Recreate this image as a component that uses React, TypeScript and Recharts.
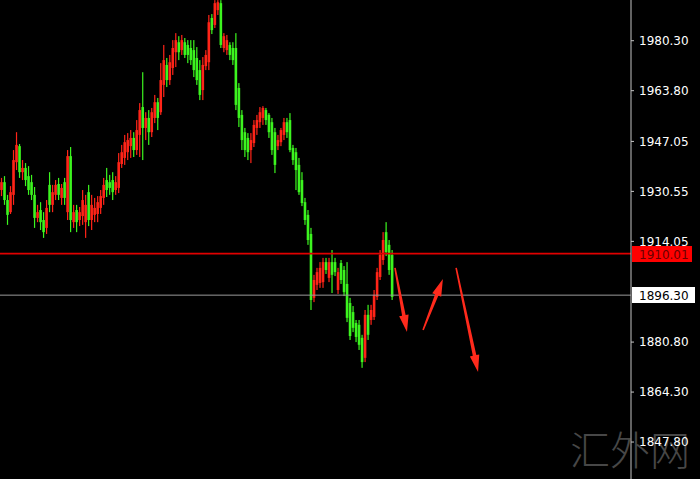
import React from 'react';
import {
  ComposedChart, Bar, XAxis, YAxis, ReferenceLine,
} from 'recharts';

// Candles, oldest first: [open, high, low, close]
const ohlc: number[][] = [
  [1931.0, 1935.0, 1929.0, 1933.6], [1933.6, 1935.6, 1926.1, 1927.7], [1927.7, 1929.4, 1919.5, 1922.8],
  [1923.7, 1932.3, 1923.1, 1930.3], [1929.4, 1944.2, 1926.1, 1940.9], [1940.2, 1950.1, 1937.6, 1945.9],
  [1945.5, 1946.2, 1935.0, 1936.9], [1936.9, 1940.9, 1934.3, 1938.3], [1938.3, 1939.9, 1932.3, 1934.3],
  [1935.6, 1938.9, 1929.4, 1931.0], [1933.6, 1936.0, 1927.7, 1929.4], [1929.4, 1932.0, 1918.5, 1921.8],
  [1921.8, 1926.1, 1920.4, 1923.7], [1924.4, 1927.0, 1917.8, 1920.4], [1921.1, 1923.7, 1915.2, 1917.1],
  [1918.5, 1927.7, 1916.5, 1925.1], [1932.7, 1936.9, 1923.7, 1926.1], [1926.1, 1932.7, 1923.7, 1930.3],
  [1929.4, 1934.3, 1927.7, 1932.7], [1933.0, 1935.0, 1927.7, 1929.4], [1928.4, 1933.0, 1926.1, 1931.7],
  [1933.6, 1935.0, 1926.1, 1928.4], [1923.7, 1944.2, 1921.1, 1942.2], [1942.2, 1945.2, 1917.1, 1921.1],
  [1920.4, 1926.1, 1918.5, 1923.7], [1924.4, 1926.1, 1917.1, 1920.4], [1921.1, 1925.4, 1919.1, 1923.7],
  [1922.4, 1931.0, 1919.5, 1927.7], [1920.4, 1929.4, 1915.2, 1926.1], [1930.3, 1932.7, 1919.1, 1921.1],
  [1921.1, 1929.4, 1917.8, 1926.1], [1922.8, 1928.4, 1920.4, 1925.1], [1923.1, 1929.0, 1920.4, 1927.0],
  [1925.1, 1931.0, 1923.1, 1929.0], [1928.4, 1935.0, 1926.1, 1932.7], [1934.3, 1938.3, 1928.7, 1931.0],
  [1933.6, 1936.0, 1929.4, 1931.7], [1934.3, 1936.9, 1927.7, 1930.3], [1931.0, 1935.6, 1929.4, 1933.6],
  [1931.7, 1943.2, 1930.0, 1940.2], [1939.6, 1945.9, 1938.3, 1943.5], [1941.6, 1949.2, 1939.3, 1946.8],
  [1943.5, 1949.8, 1940.9, 1947.5], [1945.5, 1950.8, 1941.6, 1948.2], [1948.2, 1950.1, 1941.9, 1944.2],
  [1944.2, 1954.1, 1942.6, 1950.8], [1949.2, 1959.7, 1941.9, 1957.4], [1958.4, 1969.9, 1940.9, 1951.5],
  [1951.5, 1956.7, 1947.5, 1954.8], [1954.8, 1957.4, 1945.9, 1950.1], [1950.1, 1958.1, 1948.5, 1956.7],
  [1954.8, 1962.4, 1953.1, 1960.0], [1960.0, 1961.4, 1950.8, 1954.8], [1956.7, 1972.9, 1955.8, 1967.3],
  [1965.7, 1978.9, 1961.7, 1973.9], [1972.3, 1974.6, 1965.0, 1967.3], [1967.3, 1975.6, 1965.7, 1973.2],
  [1971.3, 1980.5, 1969.0, 1977.9], [1976.5, 1982.8, 1971.6, 1980.5], [1979.8, 1981.8, 1973.9, 1976.5],
  [1977.2, 1982.2, 1975.6, 1980.5], [1979.8, 1981.2, 1974.6, 1975.6], [1978.9, 1980.5, 1972.9, 1975.6],
  [1977.9, 1980.5, 1972.3, 1973.9], [1977.2, 1980.5, 1968.3, 1970.6], [1974.6, 1978.2, 1965.7, 1967.3],
  [1970.6, 1973.9, 1960.7, 1962.4], [1964.0, 1974.9, 1960.7, 1972.3], [1971.9, 1977.2, 1970.6, 1975.6],
  [1973.2, 1988.8, 1970.6, 1986.4], [1987.8, 1989.1, 1982.5, 1983.8], [1985.5, 1993.7, 1984.5, 1992.7],
  [1990.4, 1993.7, 1988.8, 1993.0], [1992.7, 1993.7, 1977.9, 1978.9], [1977.9, 1982.8, 1976.5, 1981.8],
  [1977.2, 1982.2, 1975.6, 1980.5], [1978.9, 1979.8, 1973.9, 1975.6], [1977.9, 1979.8, 1972.3, 1973.9],
  [1977.9, 1982.8, 1957.4, 1959.1], [1964.7, 1966.3, 1951.8, 1954.8], [1955.8, 1957.4, 1944.2, 1947.5],
  [1950.1, 1951.5, 1941.9, 1944.2], [1948.2, 1949.8, 1940.9, 1943.5], [1944.2, 1949.8, 1939.9, 1947.5],
  [1946.5, 1954.1, 1945.2, 1952.5], [1951.5, 1955.8, 1949.2, 1954.1], [1953.4, 1958.4, 1951.5, 1956.7],
  [1954.8, 1958.7, 1952.5, 1958.1], [1957.4, 1958.1, 1952.5, 1954.1], [1955.8, 1956.4, 1948.2, 1950.1],
  [1953.4, 1954.8, 1942.6, 1944.2], [1950.1, 1951.5, 1936.6, 1939.3], [1945.5, 1949.2, 1944.2, 1947.5],
  [1946.8, 1951.5, 1945.5, 1950.8], [1949.2, 1954.8, 1947.5, 1953.4], [1953.4, 1954.8, 1948.2, 1950.1],
  [1954.1, 1956.4, 1943.5, 1944.2], [1944.9, 1945.9, 1939.3, 1940.9], [1943.5, 1944.9, 1931.0, 1937.6],
  [1939.3, 1941.6, 1929.4, 1930.3], [1934.3, 1936.9, 1925.7, 1926.7], [1927.0, 1928.4, 1919.5, 1921.1],
  [1922.8, 1924.4, 1912.9, 1914.5], [1916.5, 1918.5, 1891.4, 1894.7], [1895.4, 1903.0, 1894.0, 1901.3],
  [1899.7, 1905.3, 1898.0, 1903.9], [1900.3, 1907.2, 1898.7, 1905.3], [1900.6, 1908.6, 1898.7, 1907.2],
  [1907.2, 1908.6, 1903.3, 1904.6], [1902.0, 1908.6, 1900.6, 1907.2], [1907.2, 1911.2, 1897.0, 1903.0],
  [1907.2, 1908.6, 1902.6, 1903.9], [1898.0, 1905.3, 1896.7, 1903.9], [1906.9, 1907.9, 1900.0, 1901.3],
  [1904.6, 1905.9, 1896.0, 1897.3], [1900.0, 1907.2, 1887.4, 1888.8], [1893.7, 1895.4, 1881.5, 1882.8],
  [1890.7, 1892.7, 1884.1, 1885.5], [1887.1, 1888.1, 1880.8, 1882.5], [1886.5, 1888.1, 1878.2, 1879.9],
  [1882.2, 1883.2, 1872.3, 1874.2], [1875.6, 1891.4, 1874.2, 1889.8], [1889.8, 1893.1, 1881.5, 1883.2],
  [1888.1, 1893.1, 1886.5, 1891.4], [1889.1, 1898.0, 1888.1, 1896.4], [1895.7, 1905.3, 1894.7, 1903.9],
  [1902.3, 1911.2, 1901.3, 1909.6], [1907.9, 1917.1, 1906.3, 1914.5], [1917.1, 1920.4, 1909.2, 1910.5],
  [1912.9, 1914.5, 1903.0, 1904.6], [1909.6, 1911.2, 1894.7, 1895.7],
];

const priceTicks = [1980.30, 1963.80, 1947.05, 1930.55, 1914.05, 1880.80, 1864.30, 1847.80];
const priceDomain = [1835.6, 1993.74];
const slotDomain = [-0.5, 209.5];

const bidLine = 1910.01;
const levelLine = 1896.30;

// Hand-drawn direction arrows: [bar slot, price] from tail to tip
const arrows = [
  { from: [130.95, 1905.3], to: [134.95, 1884.1] },
  { from: [140.3, 1884.8], to: [146.9, 1901.6] },
  { from: [151.3, 1905.3], to: [158.6, 1870.9] },
];

const UP = '#ff2418';
const DOWN = '#3cf41f';
const ARROW = '#ff2a1c';
const FONT = '"DejaVu Sans", sans-serif';

const data = ohlc.map(([open, high, low, close], i) => ({
  i, open, high, low, close, range: [low, high],
}));

const Candle = (props: any) => {
  const { x, y, width, height, payload } = props;
  if (!payload || x == null || y == null) return null;
  const { open, high, low, close } = payload;
  const top = Math.min(y, y + height);
  const h = Math.abs(height);
  const toY = (v: number) => top + ((high - v) / (high - low || 1)) * h;
  const cx = x + width / 2;
  const color = close >= open ? UP : DOWN;
  const bTop = toY(Math.max(open, close));
  const bBot = toY(Math.min(open, close));
  return (
    <g>
      <rect x={cx - 0.6} y={top} width={1.2} height={Math.max(1, h)} fill={color} />
      <rect x={cx - 1.3} y={bTop} width={2.6} height={Math.max(1, bBot - bTop)} fill={color} />
    </g>
  );
};

const Arrow = (props: any) => {
  const { x1, y1, x2, y2 } = props;
  const len = Math.hypot(x2 - x1, y2 - y1);
  const ux = (x2 - x1) / len;
  const uy = (y2 - y1) / len;
  const px = -uy;
  const py = ux;
  const headLen = 17;
  const headW = 4.8;
  const bx = x2 - ux * headLen;
  const by = y2 - uy * headLen;
  const pts = [
    [x1 + px * 0.8, y1 + py * 0.8],
    [bx + px * 1.8, by + py * 1.8],
    [bx + px * headW, by + py * headW],
    [x2, y2],
    [bx - px * headW, by - py * headW],
    [bx - px * 1.8, by - py * 1.8],
    [x1 - px * 0.8, y1 - py * 0.8],
  ];
  return <polygon points={pts.map((p) => p.join(',')).join(' ')} fill={ARROW} />;
};

const PriceTag = ({ viewBox, value, bg, fg, w }: any) => {
  if (!viewBox) return null;
  const left = viewBox.x + viewBox.width + 1;
  const cy = Math.round(viewBox.y);
  return (
    <g>
      <rect x={left} y={cy - 8} width={w} height={16} fill={bg} />
      <text x={left + 7} y={cy + 4.5} fill={fg} fontSize={12} fontFamily={FONT}>
        {value.toFixed(2)}
      </text>
    </g>
  );
};

const App: React.FC = () => (
  <div
    style={{
      position: 'fixed', left: 0, top: 0, width: 700, height: 479,
      background: '#000', overflow: 'hidden',
    }}
  >
    <div
      style={{
        position: 'absolute', left: 570, top: 426, fontSize: 40, lineHeight: '44px',
        color: '#474747', fontFamily: '"Noto Sans CJK SC", sans-serif', fontWeight: 300,
      }}
    >
      汇外网
    </div>
    <ComposedChart
      width={700}
      height={479}
      data={data}
      margin={{ top: 0, right: 0, bottom: 0, left: 0 }}
      style={{ position: 'absolute', left: 0, top: 0 }}
    >
      <XAxis dataKey="i" type="number" domain={slotDomain} allowDataOverflow hide />
      <YAxis
        orientation="right"
        width={69}
        type="number"
        domain={priceDomain}
        allowDataOverflow
        ticks={priceTicks}
        interval={0}
        tickSize={3}
        tickMargin={5}
        stroke="#c4c4c4"
        tick={{ fill: '#ffffff', fontSize: 12, fontFamily: FONT }}
        tickFormatter={(v: number) => v.toFixed(2)}
      />
      <Bar dataKey="range" barSize={3} shape={Candle} isAnimationActive={false} />
      <ReferenceLine
        y={bidLine}
        stroke="#e00000"
        strokeWidth={1.6}
        label={(p: any) => <PriceTag viewBox={p.viewBox} value={bidLine} bg="#ff0000" fg="#6a0000" w={60} />}
      />
      <ReferenceLine
        y={levelLine}
        stroke="#9a9a9a"
        strokeWidth={1}
        label={(p: any) => <PriceTag viewBox={p.viewBox} value={levelLine} bg="#ffffff" fg="#000000" w={63} />}
      />
      {arrows.map((a, k) => (
        <ReferenceLine
          key={k}
          segment={[{ x: a.from[0], y: a.from[1] }, { x: a.to[0], y: a.to[1] }]}
          shape={Arrow}
        />
      ))}
    </ComposedChart>
  </div>
);

export default App;
